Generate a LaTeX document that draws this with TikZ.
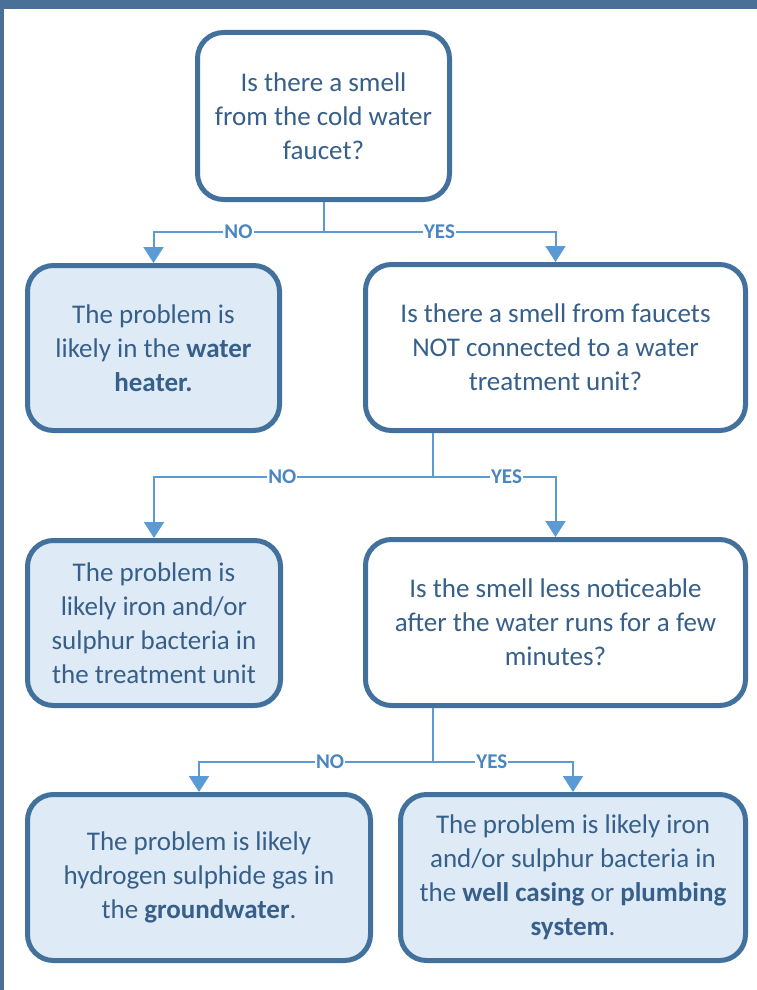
\documentclass[tikz,border=0pt]{standalone}
\usepackage{fontspec}
\setmainfont{Carlito}
\usetikzlibrary{arrows.meta}
\definecolor{boxline}{HTML}{41719C}
\definecolor{boxfill}{HTML}{DEEAF6}
\definecolor{flowline}{HTML}{5B9BD5}
\definecolor{boxtext}{HTML}{365F8A}
\definecolor{choicetext}{HTML}{4A86C2}
\definecolor{framedark}{HTML}{1F4E85}
\definecolor{framelight}{HTML}{4A7098}

\begin{document}
\begin{tikzpicture}[x=1pt, y=-1pt,
    question/.style={draw=boxline, line width=5pt, rounded corners=26pt, fill=white,
        text=boxtext, align=center, font=\fontsize{27}{34}\selectfont, inner sep=0pt},
    answer/.style={question, fill=boxfill},
    flow/.style={draw=flowline, line width=2pt},
    flowarrow/.style={flow, -{Triangle[width=20pt,length=16pt]}},
    choice/.style={fill=white, text=choicetext, font=\fontsize{21}{21}\selectfont\bfseries, inner sep=1pt}]
    \useasboundingbox (0,0) rectangle (757,990);
    \fill[white] (0,0) rectangle (757,990);
    %% Frame
    \shade[left color=framelight, middle color=framedark, right color=framelight] (0,0) rectangle (757,9);
    \fill[framelight] (0,0) rectangle (4,990);
    %% Boxes
    \node[question, minimum width=252pt, minimum height=167pt] (q1) at (323.5,116)
        {Is there a smell\\from the cold water\\faucet?};
    \node[answer, minimum width=252pt, minimum height=165pt] (a1) at (153.5,348)
        {The problem is\\likely in the \textbf{water}\\\textbf{heater.}};
    \node[question, minimum width=380pt, minimum height=166pt] (q2) at (555.5,347.5)
        {Is there a smell from faucets\\NOT connected to a water\\treatment unit?};
    \node[answer, minimum width=253pt, minimum height=165pt] (a2) at (154,623)
        {The problem is\\likely iron and/or\\sulphur bacteria in\\the treatment unit};
    \node[question, minimum width=380pt, minimum height=166pt] (q3) at (555.5,622.5)
        {Is the smell less noticeable\\after the water runs for a few\\minutes?};
    \node[answer, minimum width=343pt, minimum height=166pt] (a3) at (199,877.5)
        {The problem is likely\\hydrogen sulphide gas in\\the \textbf{groundwater}.};
    \node[answer, minimum width=345pt, minimum height=166pt] (a4) at (573,877.5)
        {The problem is likely iron\\and/or sulphur bacteria in\\the \textbf{well casing} or \textbf{plumbing}\\\textbf{system}.};
    %% First split
    \coordinate (s1) at (323.5,232);
    \draw[flow] (q1.south) -- (s1);
    \draw[flowarrow] (s1) -| node[choice, pos=0.25] {NO} (a1.north);
    \draw[flowarrow] (s1) -| node[choice, pos=0.25] {YES} (q2.north);
    %% Second split
    \coordinate (s2) at (433,477);
    \draw[flow] (q2.south -| s2) -- (s2);
    \draw[flowarrow] (s2) -| node[choice, pos=0.27] {NO} (a2.north);
    \draw[flowarrow] (s2) -| node[choice, pos=0.3] {YES} (q3.north);
    %% Third split
    \coordinate (s3) at (433,762);
    \draw[flow] (q3.south -| s3) -- (s3);
    \draw[flowarrow] (s3) -| node[choice, pos=0.22] {NO} (a3.north);
    \draw[flowarrow] (s3) -| node[choice, pos=0.21] {YES} (a4.north);
\end{tikzpicture}
\end{document}
